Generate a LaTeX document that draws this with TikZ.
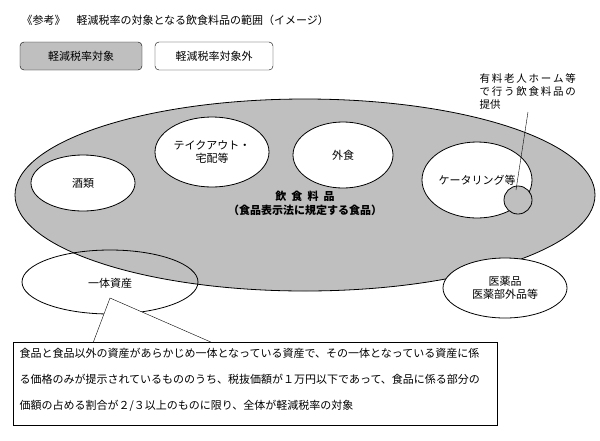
\documentclass[tikz,border=0pt]{standalone}
\usepackage{fontspec}
\setmainfont{Noto Sans CJK JP}
\begin{document}
\begin{tikzpicture}[x=1pt,y=-1pt,
  lab/.style={font=\fontsize{11}{13}\selectfont,align=center},
  el/.style={draw,thick,fill=white},
  leg/.style={draw,rounded corners=4pt,minimum width=122pt,minimum height=28pt,font=\fontsize{11}{13}\selectfont}]
\useasboundingbox (0,0) rectangle (600,440);
\node[anchor=west,font=\fontsize{11}{13}\selectfont] (title) at (18,20) {《参考》　軽減税率の対象となる飲食料品の範囲（イメージ）};
\node[leg,fill=gray!50] (l1) at (81,56) {軽減税率対象};
\node[leg,minimum width=118pt,fill=white] (l2) at (214,56) {軽減税率対象外};
\draw[thick,fill=gray!50] (305,195) ellipse [x radius=290,y radius=96];
\draw[el] (83,183) ellipse [x radius=52,y radius=28];
\node[lab] (sake) at (83,183) {酒類};
\draw[el] (212,152) ellipse [x radius=57,y radius=35];
\node[lab] (take) at (212,152) {テイクアウト・\\宅配等};
\draw[el] (343,155) ellipse [x radius=50,y radius=33];
\node[lab] (gai) at (343,155) {外食};
\draw[el] (477,180) ellipse [x radius=55,y radius=38];
\node[lab] (cat) at (477,180) {ケータリング等};
\draw[thick,fill=gray!50] (518,200) circle [radius=14];
\coordinate (sc) at (516,190);
\node[anchor=north west,align=left,font=\fontsize{10.5}{13}\selectfont] (rou) at (476,70) {有\,料\,老\,人\,ホ\,ー\,ム\,等\\で\,行\,う\,飲\,食\,料\,品\,の\\提供};
\coordinate (rt) at (528,112);
\draw (rt) -- (sc);
\node[lab,font=\bfseries\fontsize{11}{14}\selectfont] (food) at (305,203) {飲\ \ 食\ \ 料\ \ 品\\（食品表示法に規定する食品）};
\draw[thick] (110,282) ellipse [x radius=88,y radius=32];
\node[lab] (itt) at (110,283) {一体資産};
\draw[el] (505,288) ellipse [x radius=62,y radius=30];
\node[lab] (iya) at (505,288) {医薬品\\医薬部外品等};
\coordinate (p1) at (93,343);
\coordinate (p2) at (110,298);
\coordinate (p3) at (213,343);
\draw[fill=white] (p1) -- (p2) -- (p3);
\node[draw,fill=white,anchor=north west,minimum width=484pt,minimum height=83pt,inner sep=0pt] (box) at (13,342) {};
\node[anchor=north west,align=left,font=\fontsize{11}{26}\selectfont] (txt) at (16,345) {食品と食品以外の資産があらかじめ一体となっている資産で、その一体となっている資産に係\\る価格のみが提示されているもののうち、税抜価額が１万円以下であって、食品に係る部分の\\価額の占める割合が２/３以上のものに限り、全体が軽減税率の対象};
\end{tikzpicture}
\end{document}
